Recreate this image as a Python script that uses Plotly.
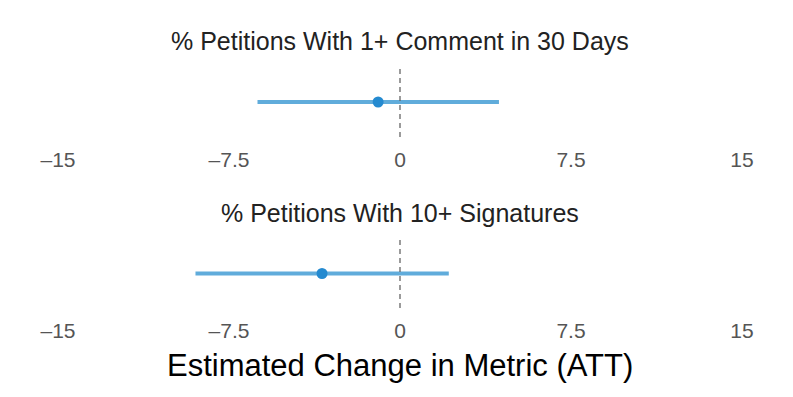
import plotly.graph_objects as go
from plotly.subplots import make_subplots

metrics = ["% Petitions With 1+ Comment in 30 Days", "% Petitions With 10+ Signatures"]
att = [-0.96, -3.42]
ci_low = [-6.25, -8.97]
ci_high = [4.34, 2.14]
tick_vals = [-15, -7.5, 0, 7.5, 15]
tick_text = ["\u201315", "\u20137.5", "0", "7.5", "15"]

line_col = "rgb(96,172,219)"
dot_col = "rgb(36,138,208)"

fig = make_subplots(rows=2, cols=1, vertical_spacing=0.1)

domains = [[0.6549, 0.8312], [0.2242, 0.398]]

for i, name in enumerate(metrics):
    r = i + 1
    fig.add_trace(go.Scatter(x=[ci_low[i], ci_high[i]], y=[0, 0], mode="lines",
                             line=dict(color=line_col, width=4), showlegend=False,
                             hoverinfo="skip"), row=r, col=1)
    fig.add_trace(go.Scatter(x=[att[i]], y=[0], mode="markers",
                             marker=dict(color=dot_col, size=11), showlegend=False,
                             name=name), row=r, col=1)
    fig.add_vline(x=0, line=dict(color="#666666", width=1.3, dash="5px,4px"), row=r, col=1)
    fig.update_xaxes(range=[-15, 15], tickvals=tick_vals, ticktext=tick_text,
                     showgrid=False, zeroline=False, showline=False, automargin=False,
                     ticks="outside", ticklen=4, tickcolor="rgba(0,0,0,0)",
                     tickfont=dict(size=21, color="#555555"), row=r, col=1)
    fig.update_yaxes(range=[-1, 1], domain=domains[i], visible=False, row=r, col=1)
    fig.add_annotation(text=name, x=0.5, xref="paper", y=domains[i][1], yref="paper",
                       yanchor="bottom", yshift=10, showarrow=False,
                       font=dict(size=25, color="#222222"))

fig.add_annotation(text="Estimated Change in Metric (ATT)", x=0.5, xref="paper",
                   y=1 - 365 / 397, yref="paper", yanchor="middle", showarrow=False,
                   font=dict(size=31, color="#000000"))

fig.update_layout(width=793, height=397, margin=dict(l=58, r=51, t=0, b=0),
                  plot_bgcolor="white", paper_bgcolor="white",
                  font=dict(family="Liberation Sans, Arial, sans-serif"))

# page has a default 8px body margin; drop it so the figure sits at 0,0
fig.write_html("out.html", config={"displayModeBar": False},
               post_script="document.body.style.margin='0';")
